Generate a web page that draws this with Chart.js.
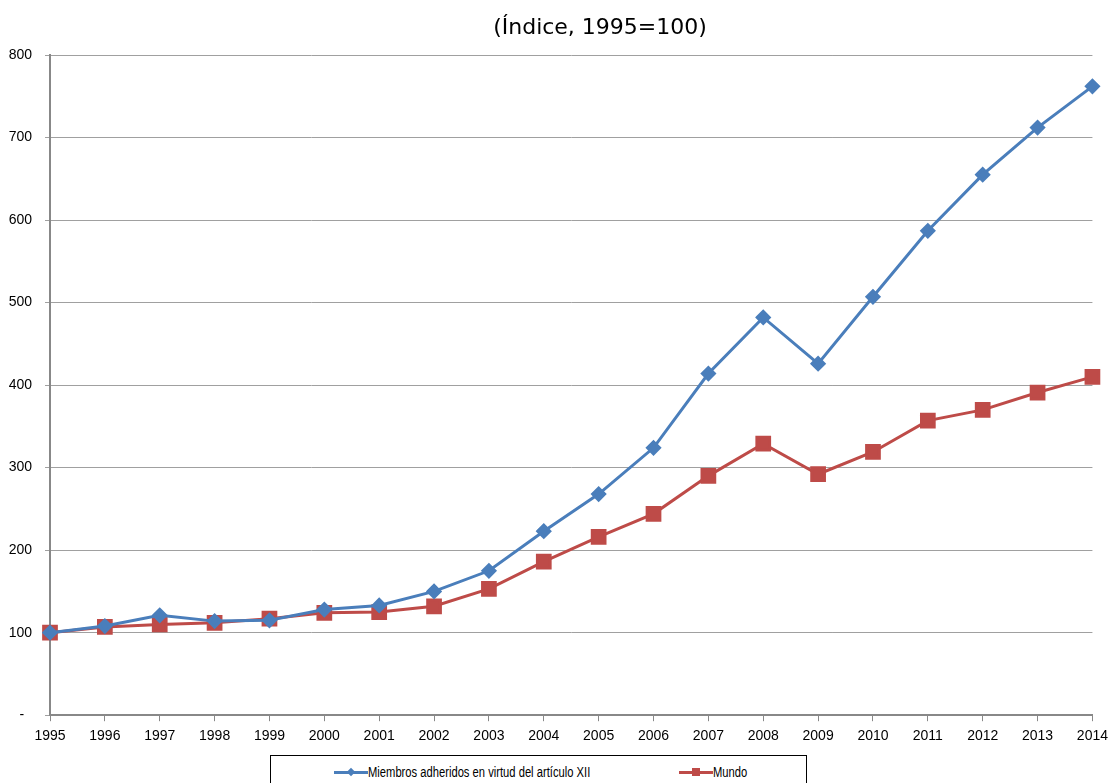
<!DOCTYPE html>
<html>
<head>
<meta charset="utf-8">
<script src="https://cdn.jsdelivr.net/npm/chart.js@4"></script>
<style>
  html, body { margin: 0; padding: 0; background: #fff; }
  #wrap { position: relative; width: 1115px; height: 783px; }
  #c { position: absolute; left: 0; top: 0; }
  #legend { position: absolute; left: 270px; top: 755px; width: 537px; height: 32px; border: 1px solid #000; box-sizing: border-box; background: #fff;
    font-family: "Liberation Sans", sans-serif; font-size: 14px; color: #000; }
  .item { position: absolute; top: 8px; display: flex; align-items: center; white-space: nowrap; }
  .sym { position: relative; width: 34px; height: 12px; flex: none; }
  .sym .ln { position: absolute; left: 0; right: 0; top: 5px; height: 3px; }
  .sym .mk { position: absolute; }
  .txt { display: inline-block; transform: scaleX(0.8); transform-origin: left center; }
</style>
</head>
<body>
<div id="wrap">
  <canvas id="c" width="1115" height="783"></canvas>
  <div id="legend">
    <div class="item" style="left:63px;">
      <div class="sym"><div class="ln" style="background:#4a7ebb"></div><div class="mk" style="left:14px;top:3px;width:6px;height:6px;background:#4a7ebb;transform:rotate(45deg)"></div></div>
      <span class="txt">Miembros adheridos en virtud del artículo XII</span>
    </div>
    <div class="item" style="left:408px;">
      <div class="sym"><div class="ln" style="background:#be4b48"></div><div class="mk" style="left:13px;top:2px;width:8px;height:8px;background:#be4b48"></div></div>
      <span class="txt">Mundo</span>
    </div>
  </div>
</div>
<script>
const years = ['1995','1996','1997','1998','1999','2000','2001','2002','2003','2004','2005','2006','2007','2008','2009','2010','2011','2012','2013','2014'];
const miembros = [100,108,121,114,115,128,133,150,175,223,268,324,414,482,426,507,587,655,712,762];
const mundo = [100,107,110,112,117,124,125,132,153,186,216,244,290,329,292,319,357,370,391,410];
const yTicks = [0,100,200,300,400,500,600,700,800];
const titleText = '(Índice, 1995=100)';

const titlePlugin = {
  id: 'customTitle',
  afterDraw(chart) {
    const ctx = chart.ctx;
    ctx.save();
    ctx.font = '22px "DejaVu Sans", Verdana, sans-serif';
    ctx.fillStyle = '#000';
    ctx.textAlign = 'center';
    ctx.textBaseline = 'middle';
    ctx.fillText(titleText, 600, 28);
    ctx.restore();
  }
};

const tickFont = { family: '"Liberation Sans", Arial, sans-serif', size: 14 };

new Chart(document.getElementById('c'), {
  type: 'line',
  data: {
    labels: years,
    datasets: [
      { label: 'Miembros adheridos en virtud del artículo XII', data: miembros,
        borderColor: '#4a7ebb', backgroundColor: '#4a7ebb', borderWidth: 3,
        pointStyle: 'rectRot', pointRadius: 6, pointHoverRadius: 6, tension: 0 },
      { label: 'Mundo', data: mundo,
        borderColor: '#be4b48', backgroundColor: '#be4b48', borderWidth: 3,
        pointStyle: 'rect', pointRadius: 9, pointHoverRadius: 9, tension: 0 }
    ]
  },
  options: {
    responsive: false,
    animation: false,
    layout: { padding: { top: 55, left: 0, right: 0, bottom: 31 } },
    plugins: { legend: { display: false }, title: { display: false }, tooltip: { enabled: false } },
    scales: {
      x: {
        offset: false,
        grid: { display: true, drawOnChartArea: false, drawTicks: true, tickLength: 6, color: '#888' },
        border: { color: '#888', width: 2 },
        ticks: { color: '#000', font: tickFont, maxRotation: 0, autoSkip: false, padding: 7 }
      },
      y: {
        min: 0, max: 800,
        afterBuildTicks(axis) { axis.ticks = yTicks.map(v => ({ value: v })); },
        afterFit(axis) { axis.width = 50; },
        grid: { color: '#a0a0a0', lineWidth: 1, tickLength: 5, drawTicks: true },
        border: { color: '#888', width: 2 },
        ticks: { color: '#000', font: tickFont, padding: 13,
          callback: v => v === 0 ? '-  ' : String(v) }
      }
    }
  },
  plugins: [titlePlugin]
});
</script>
</body>
</html>
